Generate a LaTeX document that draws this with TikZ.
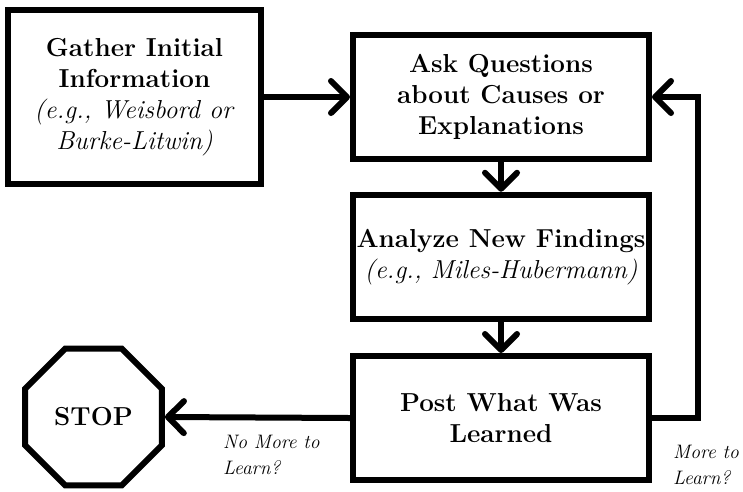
\documentclass[tikz,border=0pt]{standalone}
\usepackage{fontspec}
\usetikzlibrary{arrows.meta,shapes.geometric}
\begin{document}
\begin{tikzpicture}[x=1pt,y=-1pt,
  box/.style={draw,line width=6pt,inner sep=0pt,align=center,
    font=\fontsize{26}{31}\selectfont},
  conn/.style={line width=6pt,-{Straight Barb[length=16pt,width=32pt,round]}},
  lbl/.style={inner sep=0pt,align=left,font=\fontsize{19.5}{26.5}\selectfont\itshape}]
\useasboundingbox (0,0) rectangle (743,491);
\node[box,minimum width=253pt,minimum height=174pt] (gather) at (134.5,97)
  {\textbf{Gather Initial}\\\textbf{Information}\\\textit{(e.g., Weisbord or}\\\textit{Burke-Litwin)}};
\node[box,minimum width=296pt,minimum height=124.5pt] (ask) at (501,97)
  {\textbf{Ask Questions}\\\textbf{about Causes or}\\\textbf{Explanations}};
\node[box,minimum width=296pt,minimum height=124.5pt] (analyze) at (501,257)
  {\textbf{Analyze New Findings}\\\textit{(e.g., Miles-Hubermann)}};
\node[box,minimum width=296pt,minimum height=124pt] (post) at (501,418)
  {\textbf{Post What Was}\\\textbf{Learned}};
\node[draw,line width=6pt,regular polygon,regular polygon sides=8,minimum size=148pt,
  inner sep=0pt,font=\fontsize{26}{31}\selectfont\bfseries] (stop) at (93.5,417) {STOP};
\coordinate (loopA) at (698,418);
\coordinate (loopB) at (698,97);
\draw[conn] (gather.east) -- (ask.west);
\draw[conn] (ask.south) -- (analyze.north);
\draw[conn] (analyze.south) -- (post.north);
\draw[conn] (post.west) -- (stop.east);
\draw[conn,line join=miter] (post.east) -- (loopA) -- (loopB) -- (ask.east);
\node[lbl,anchor=north west] (nomore) at (223,434.7) {No More to\\Learn?};
\node[lbl,anchor=north west] (more) at (673,444.7) {More to\\Learn?};
\end{tikzpicture}
\end{document}
